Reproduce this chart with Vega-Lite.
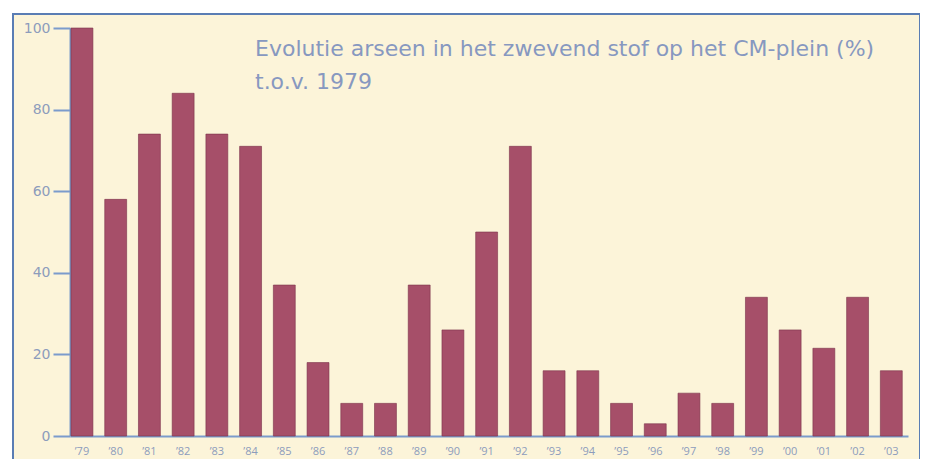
{
  "$schema": "https://vega.github.io/schema/vega-lite/v6.json",
  "width": 907,
  "height": 450,
  "autosize": {"type": "none"},
  "padding": {"left": 13, "top": 14, "right": 0, "bottom": 0},
  "background": "#ffffff",
  "title": {
    "text": ["Evolutie arseen in het zwevend stof op het CM-plein (%)", "t.o.v. 1979"],
    "anchor": "start",
    "frame": "group",
    "orient": "top",
    "baseline": "alphabetic",
    "dx": 242,
    "dy": 101,
    "fontSize": 22,
    "font": "DejaVu Sans",
    "fontWeight": "normal",
    "color": "#8798c0",
    "lineHeight": 33
  },
  "config": {
    "view": {"fill": "#fcf4d9", "stroke": "#5a7db4", "strokeWidth": 2}
  },
  "data": {
    "values": [
      {"year": "’79", "value": 100},
      {"year": "’80", "value": 58},
      {"year": "’81", "value": 74},
      {"year": "’82", "value": 84},
      {"year": "’83", "value": 74},
      {"year": "’84", "value": 71},
      {"year": "’85", "value": 37},
      {"year": "’86", "value": 18},
      {"year": "’87", "value": 8},
      {"year": "’88", "value": 8},
      {"year": "’89", "value": 37},
      {"year": "’90", "value": 26},
      {"year": "’91", "value": 50},
      {"year": "’92", "value": 71},
      {"year": "’93", "value": 16},
      {"year": "’94", "value": 16},
      {"year": "’95", "value": 8},
      {"year": "’96", "value": 3},
      {"year": "’97", "value": 10.5},
      {"year": "’98", "value": 8},
      {"year": "’99", "value": 34},
      {"year": "’00", "value": 26},
      {"year": "’01", "value": 21.5},
      {"year": "’02", "value": 34},
      {"year": "’03", "value": 16}
    ]
  },
  "mark": {"type": "bar", "color": "#a64f69", "stroke": "#7a3349", "strokeWidth": 0.6},
  "encoding": {
    "x": {
      "field": "year",
      "type": "nominal",
      "sort": null,
      "scale": {"range": [57, 895], "paddingInner": 0.35, "paddingOuter": 0.1, "align": 0.15},
      "axis": {
        "title": null,
        "offset": -28,
        "labelAngle": 0,
        "ticks": false,
        "labelPadding": 9,
        "labelFontSize": 11,
        "labelFont": "Open Sans",
        "labelColor": "#8d9cbc",
        "domainColor": "#7b9bcc",
        "domainWidth": 2
      }
    },
    "y": {
      "field": "value",
      "type": "quantitative",
      "scale": {"domain": [0, 100], "range": [422, 14], "nice": false},
      "axis": {
        "title": null,
        "offset": -57,
        "values": [0, 20, 40, 60, 80, 100],
        "tickSize": 17,
        "tickColor": "#7b9bcc",
        "tickWidth": 2,
        "labelPadding": 3,
        "labelFontSize": 14,
        "labelFont": "DejaVu Sans",
        "labelColor": "#8d9cbc",
        "domainColor": "#7b9bcc",
        "domainWidth": 2,
        "grid": false
      }
    }
  }
}
